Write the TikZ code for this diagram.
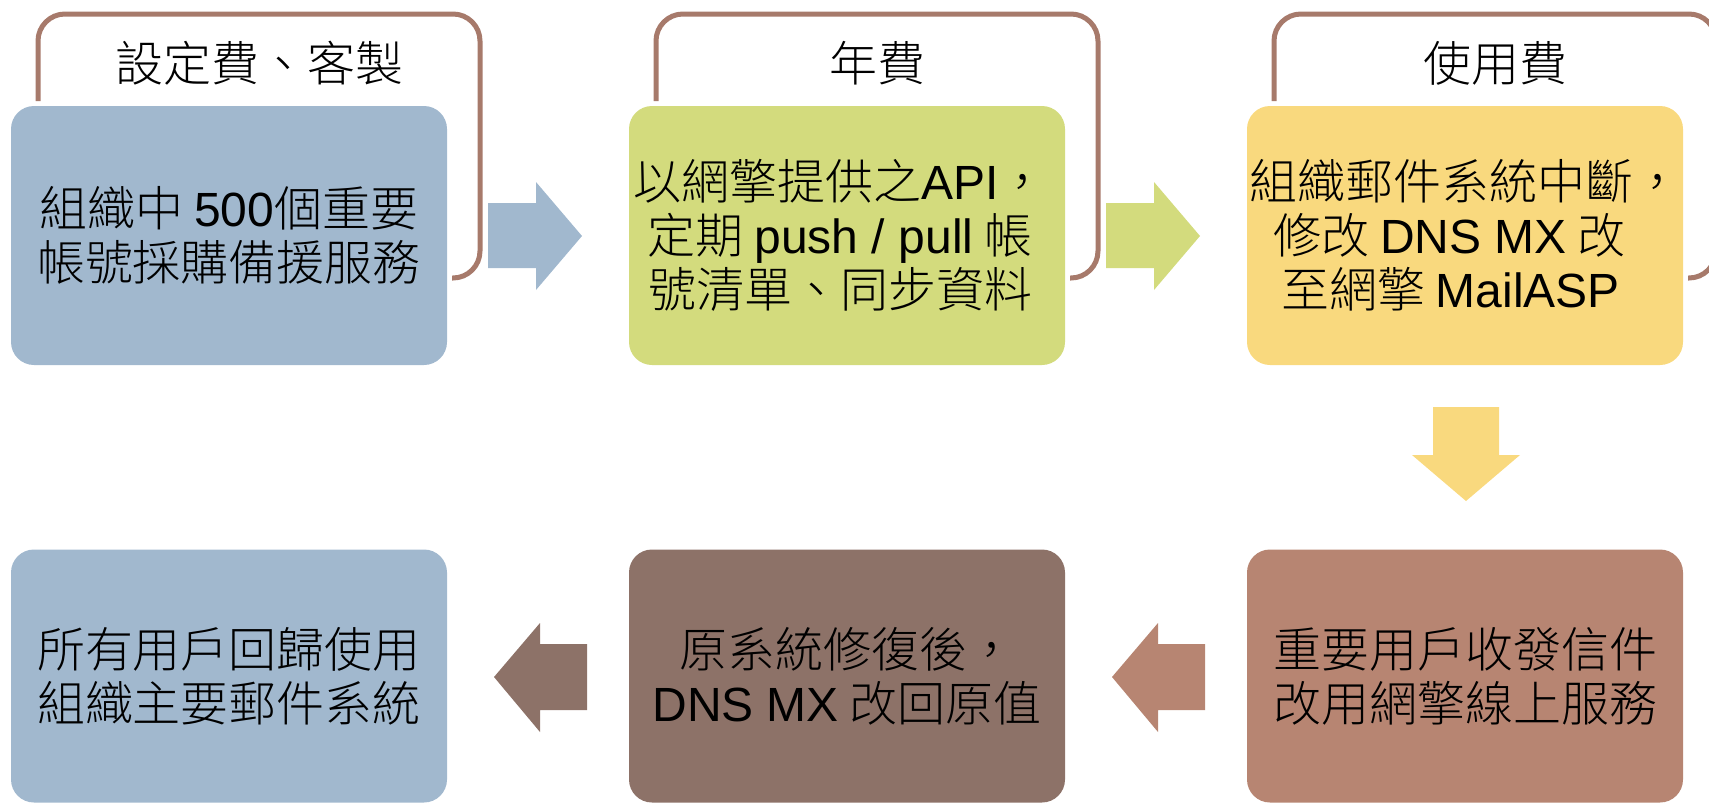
\documentclass[tikz,border=0pt]{standalone}
\usepackage{fontspec}
\setmainfont{Noto Sans CJK TC}[UprightFont={* Light}]
\newfontfamily\arialf{Liberation Sans}
\newcommand{\lat}[1]{{\arialf #1}}
\newcommand{\tline}[2]{\hbox{#2\hskip#1\relax}}
\definecolor{cblue}{HTML}{A1B8CE}
\definecolor{cgreen}{HTML}{D3DB7D}
\definecolor{cyellow}{HTML}{F9D97E}
\definecolor{clbrown}{HTML}{B78572}
\definecolor{cdbrown}{HTML}{8D7268}
\definecolor{cbracket}{HTML}{A77A6B}
\begin{document}
\begin{tikzpicture}[x=1pt,y=-1pt,
  stepbox/.style={rounded corners=23pt, minimum width=436pt, minimum height=255pt,
    inner sep=0pt, align=center, text=black,
    font=\fontsize{48}{54}\selectfont},
  bracket/.style={draw=cbracket, line width=5pt, rounded corners=27pt},
  lbl/.style={font=\fontsize{48}{54}\selectfont, inner sep=0pt, anchor=center}]
\useasboundingbox (0,0) rectangle (1709,803);
\clip (0,0) rectangle (1709,803);
% brackets
\draw[bracket] (38,101) -- (38,14) -- (480,14) -- (480,278) -- (452,278);
\draw[bracket] (656,101) -- (656,14) -- (1098,14) -- (1098,278) -- (1070,278);
\draw[bracket] (1274,101) -- (1274,14) -- (1716,14) -- (1716,278) -- (1688,278);
\node[lbl] (l1) at (259,63) {設定費、客製};
\node[lbl] (l2) at (877,63) {年費};
\node[lbl] (l3) at (1495,63) {使用費};
% boxes
\node[stepbox, fill=cblue, minimum height=259pt] (b1) at (229,235.5)
  {組織中 \lat{500}個重要\\帳號採購備援服務};
\node[stepbox, fill=cgreen, minimum height=259pt] (b2) at (847,235.5)
  {\tline{14pt}{以網擎提供之\lat{API}，}\\\tline{14pt}{定期 \lat{push / pull} 帳}\\\tline{14pt}{號清單、同步資料}};
\node[stepbox, fill=cyellow, minimum height=259pt] (b3) at (1465,235.5)
  {組織郵件系統中斷，\\\tline{31pt}{修改 \lat{DNS MX} 改}\\\tline{29pt}{至網擎 \lat{MailASP}}};
\node[stepbox, fill=clbrown, minimum height=253pt] (b6) at (1465,676)
  {重要用戶收發信件\\改用網擎線上服務};
\node[stepbox, fill=cdbrown, minimum height=253pt] (b5) at (847,676)
  {原系統修復後，\\\lat{DNS MX} 改回原值};
\node[stepbox, fill=cblue, minimum height=253pt] (b4) at (229,676)
  {所有用戶回歸使用\\組織主要郵件系統};
% block arrows
\fill[cblue] (488,203) -- (536,203) -- (536,182) -- (582,236) -- (536,290) -- (536,268) -- (488,268) -- cycle;
\fill[cgreen] (1106,203) -- (1154,203) -- (1154,182) -- (1200,236) -- (1154,290) -- (1154,268) -- (1106,268) -- cycle;
\fill[cyellow] (1433,407) -- (1499,407) -- (1499,455) -- (1520,455) -- (1466,501) -- (1412,455) -- (1433,455) -- cycle;
\fill[clbrown] (1205,644) -- (1158,644) -- (1158,623) -- (1112,677) -- (1158,732) -- (1158,710) -- (1205,710) -- cycle;
\fill[cdbrown] (587,644) -- (540,644) -- (540,623) -- (494,677) -- (540,732) -- (540,710) -- (587,710) -- cycle;
\end{tikzpicture}
\end{document}
